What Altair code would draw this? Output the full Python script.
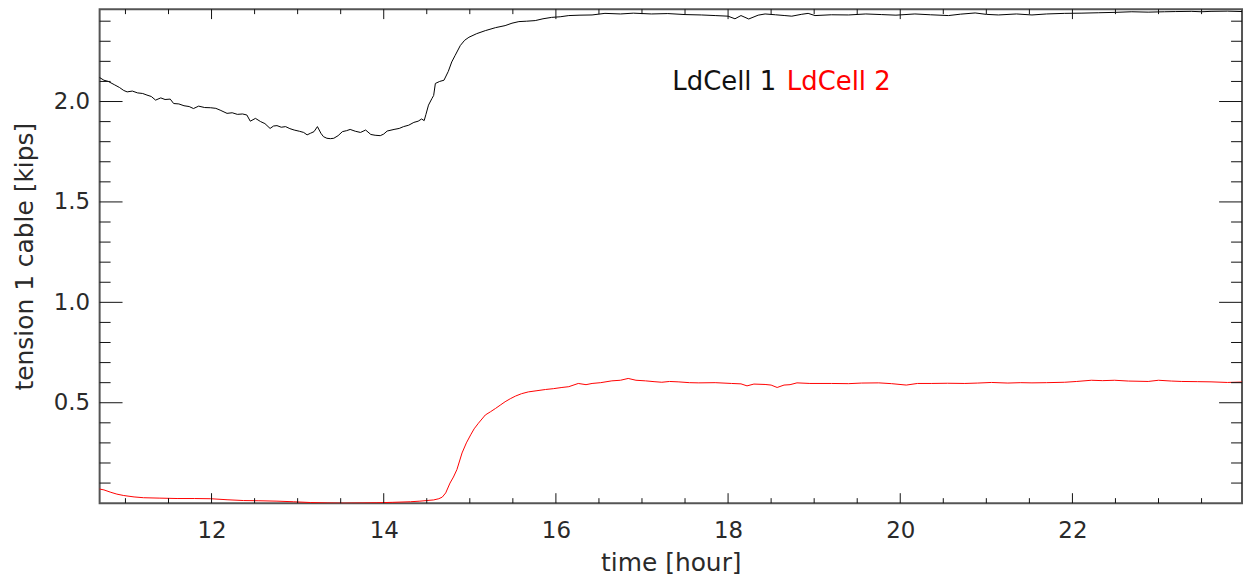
import altair as alt
import pandas as pd

# ---------------- data ----------------
series_names = ["LdCell 1", "LdCell 2"]

t1 = [10.69, 10.75, 10.80, 10.87, 10.93, 10.98, 11.02, 11.08, 11.14, 11.20, 11.25, 11.30, 11.35, 11.41,
      11.46, 11.52, 11.56, 11.62, 11.68, 11.74, 11.79, 11.85, 11.92, 11.99, 12.05, 12.10, 12.18, 12.24,
      12.30, 12.36, 12.41, 12.45, 12.51, 12.57, 12.62, 12.68, 12.72, 12.76, 12.81, 12.86, 12.91, 12.96,
      13.02, 13.07, 13.11, 13.15, 13.19, 13.23, 13.27, 13.30, 13.34, 13.38, 13.42, 13.47, 13.52, 13.57,
      13.61, 13.67, 13.73, 13.79, 13.85, 13.90, 13.96, 14.00, 14.04, 14.12, 14.18, 14.23, 14.29, 14.35,
      14.40, 14.44, 14.47, 14.49, 14.52, 14.56, 14.58, 14.60, 14.65, 14.70, 14.75, 14.79, 14.83, 14.89,
      14.94, 14.99, 15.08, 15.18, 15.30, 15.41, 15.49, 15.57, 15.66, 15.76, 15.85, 15.95, 16.05, 16.15,
      16.28, 16.42, 16.57, 16.75, 16.90, 17.11, 17.30, 17.50, 17.69, 17.85, 18.00, 18.08, 18.15, 18.24,
      18.35, 18.43, 18.55, 18.66, 18.74, 18.85, 18.93, 19.01, 19.20, 19.40, 19.60, 19.78, 19.95, 20.17,
      20.35, 20.56, 20.70, 20.87, 21.00, 21.14, 21.35, 21.53, 21.70, 21.91, 22.10, 22.30, 22.50, 22.69,
      22.88, 23.07, 23.20, 23.38, 23.50, 23.61, 23.80, 23.97]
v1 = [2.122, 2.106, 2.100, 2.084, 2.070, 2.055, 2.048, 2.052, 2.043, 2.040, 2.032, 2.025, 2.007, 2.018,
      2.010, 2.012, 1.990, 1.988, 1.979, 1.975, 1.965, 1.977, 1.970, 1.969, 1.966, 1.957, 1.941, 1.944,
      1.936, 1.938, 1.933, 1.902, 1.916, 1.900, 1.890, 1.866, 1.878, 1.880, 1.872, 1.875, 1.865, 1.858,
      1.852, 1.846, 1.834, 1.842, 1.850, 1.875, 1.842, 1.825, 1.817, 1.815, 1.817, 1.830, 1.850, 1.855,
      1.861, 1.852, 1.846, 1.858, 1.836, 1.832, 1.830, 1.838, 1.853, 1.861, 1.866, 1.875, 1.882, 1.896,
      1.902, 1.913, 1.905, 1.935, 1.982, 2.015, 2.030, 2.090, 2.100, 2.106, 2.150, 2.197, 2.230, 2.279,
      2.305, 2.320, 2.338, 2.353, 2.368, 2.378, 2.390, 2.398, 2.400, 2.403, 2.412, 2.419, 2.422, 2.428,
      2.430, 2.431, 2.439, 2.436, 2.440, 2.436, 2.438, 2.433, 2.431, 2.428, 2.425, 2.412, 2.428, 2.411,
      2.430, 2.436, 2.432, 2.428, 2.425, 2.434, 2.439, 2.428, 2.432, 2.431, 2.436, 2.433, 2.430, 2.436,
      2.432, 2.428, 2.435, 2.441, 2.434, 2.431, 2.436, 2.431, 2.436, 2.439, 2.440, 2.442, 2.444, 2.447,
      2.445, 2.447, 2.448, 2.449, 2.447, 2.449, 2.450, 2.448]

t2 = [10.69, 10.75, 10.83, 10.90, 10.98, 11.10, 11.21, 11.40, 11.60, 11.80, 11.99, 12.18, 12.37, 12.55,
      12.76, 12.95, 13.15, 13.35, 13.54, 13.75, 13.92, 14.10, 14.31, 14.42, 14.50, 14.58, 14.64, 14.68,
      14.72, 14.77, 14.81, 14.85, 14.91, 14.96, 15.01, 15.05, 15.10, 15.18, 15.24, 15.30, 15.36, 15.41,
      15.47, 15.53, 15.60, 15.68, 15.78, 15.88, 15.97, 16.07, 16.15, 16.26, 16.35, 16.42, 16.52, 16.65,
      16.75, 16.84, 16.93, 17.04, 17.14, 17.23, 17.32, 17.42, 17.55, 17.66, 17.85, 18.04, 18.15, 18.22,
      18.30, 18.43, 18.50, 18.57, 18.65, 18.72, 18.80, 18.95, 19.20, 19.40, 19.55, 19.75, 19.90, 20.07,
      20.20, 20.36, 20.55, 20.75, 20.90, 21.06, 21.25, 21.40, 21.53, 21.70, 21.91, 22.05, 22.22, 22.35,
      22.49, 22.65, 22.88, 23.00, 23.15, 23.27, 23.45, 23.61, 23.80, 23.97]
v2 = [0.071, 0.066, 0.054, 0.045, 0.038, 0.031, 0.027, 0.025, 0.023, 0.023, 0.022, 0.017, 0.013, 0.012,
      0.010, 0.007, 0.003, 0.001, 0.000, 0.001, 0.002, 0.004, 0.007, 0.010, 0.013, 0.016, 0.022, 0.030,
      0.051, 0.100, 0.130, 0.167, 0.250, 0.300, 0.340, 0.370, 0.398, 0.439, 0.455, 0.472, 0.490, 0.505,
      0.520, 0.533, 0.545, 0.554, 0.560, 0.566, 0.570, 0.576, 0.580, 0.596, 0.590, 0.596, 0.600, 0.609,
      0.612, 0.621, 0.612, 0.609, 0.605, 0.602, 0.606, 0.604, 0.600, 0.599, 0.600, 0.596, 0.594, 0.584,
      0.593, 0.591, 0.588, 0.576, 0.588, 0.590, 0.599, 0.596, 0.596, 0.595, 0.598, 0.599, 0.595, 0.588,
      0.596, 0.596, 0.597, 0.596, 0.598, 0.601, 0.598, 0.600, 0.599, 0.600, 0.602, 0.606, 0.612, 0.610,
      0.612, 0.608, 0.606, 0.612, 0.608, 0.606, 0.605, 0.604, 0.601, 0.603]

x_major = [12, 14, 16, 18, 20, 22]
x_minor = [11.0, 11.5, 12.5, 13.0, 13.5, 14.5, 15.0, 15.5, 16.5, 17.0, 17.5, 18.5, 19.0, 19.5,
           20.5, 21.0, 21.5, 22.5, 23.0, 23.5]
y_major = [0.5, 1.0, 1.5, 2.0]
y_minor = [0.1, 0.2, 0.3, 0.4, 0.6, 0.7, 0.8, 0.9, 1.1, 1.2, 1.3, 1.4, 1.6, 1.7, 1.8, 1.9,
           2.1, 2.2, 2.3, 2.4]

x_domain = [10.70, 23.97]
y_domain = [0.0, 2.46]

# ---------------- chart ----------------
W, H = 1147, 496
FONT = "DejaVu Sans"

xs = alt.Scale(domain=x_domain, nice=False, zero=False)
ys = alt.Scale(domain=y_domain, nice=False, zero=False)

x_axis = alt.Axis(values=x_major, format="d", title="time [hour]", grid=False, domain=False,
                  ticks=False, tickSize=0, labelPadding=16, labelFontSize=23, labelFont=FONT,
                  labelColor="#2a2a2a", titleFont=FONT, titleFontSize=25, titleFontWeight="normal",
                  titleColor="#2a2a2a", titleX=W / 2, titleY=60, titleBaseline="middle",
                  labelFlush=False)
y_axis = alt.Axis(values=y_major, format=".1f", title="tension 1 cable [kips]", grid=False,
                  domain=False, ticks=False, tickSize=0, labelPadding=10, labelFontSize=23,
                  labelFont=FONT, labelColor="#2a2a2a", titleFont=FONT, titleFontSize=25,
                  titleFontWeight="normal", titleColor="#2a2a2a", titleAngle=270, titleX=-75,
                  titleY=H / 2, titleBaseline="middle", titleAlign="center", labelFlush=False)

df = pd.concat([
    pd.DataFrame({"t": t1, "v": v1, "series": series_names[0]}),
    pd.DataFrame({"t": t2, "v": v2, "series": series_names[1]}),
])

lines = alt.Chart(df).mark_line(strokeWidth=1, clip=True).encode(
    x=alt.X("t:Q", scale=xs, axis=x_axis),
    y=alt.Y("v:Q", scale=ys, axis=y_axis),
    color=alt.Color("series:N", scale=alt.Scale(domain=series_names, range=["#000000", "#ff0000"]),
                    legend=None),
    detail="series:N",
)


def xticks(vals, length):
    d = pd.DataFrame({"t": vals})
    bottom = alt.Chart(d).mark_rule(color="#111", strokeWidth=1).encode(
        x=alt.X("t:Q", scale=xs, axis=x_axis), y=alt.value(H), y2=alt.value(H - length))
    top = alt.Chart(d).mark_rule(color="#111", strokeWidth=1).encode(
        x=alt.X("t:Q", scale=xs, axis=x_axis), y=alt.value(0), y2=alt.value(length))
    return [bottom, top]


def yticks(vals, length):
    d = pd.DataFrame({"v": vals})
    left = alt.Chart(d).mark_rule(color="#111", strokeWidth=1).encode(
        y=alt.Y("v:Q", scale=ys, axis=y_axis), x=alt.value(0), x2=alt.value(length))
    right = alt.Chart(d).mark_rule(color="#111", strokeWidth=1).encode(
        y=alt.Y("v:Q", scale=ys, axis=y_axis), x=alt.value(W), x2=alt.value(W - length))
    return [left, right]


ticks = xticks(x_major, 10) + xticks(x_minor, 5) + yticks(y_major, 23) + yticks(y_minor, 11)

lab1 = alt.Chart(pd.DataFrame({"name": [series_names[0]]})).mark_text(
    align="left", baseline="alphabetic", fontSize=26, font=FONT, color="#111"
).encode(text="name:N", x=alt.value(575), y=alt.value(81))
lab2 = alt.Chart(pd.DataFrame({"name": [series_names[1]]})).mark_text(
    align="left", baseline="alphabetic", fontSize=26, font=FONT, color="#ff0000"
).encode(text="name:N", x=alt.value(690), y=alt.value(81))

chart = alt.layer(lines, *ticks, lab1, lab2).properties(
    width=W, height=H,
    autosize=alt.AutoSizeParams(type="none"),
    padding={"left": 92, "top": 0, "right": 4, "bottom": 73},
    background="white",
).configure_view(stroke="#555", strokeWidth=2)

chart.save("out.html", embed_options={"renderer": "svg", "actions": False})
